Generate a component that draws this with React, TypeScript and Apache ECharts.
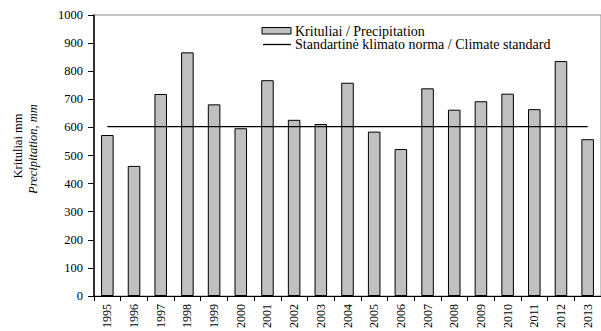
import React, { useEffect, useRef } from "react";
import * as echarts from "echarts";

const years = ["1995","1996","1997","1998","1999","2000","2001","2002","2003","2004","2005","2006","2007","2008","2009","2010","2011","2012","2013"];
const precipitation = [573, 463, 719, 867, 682, 597, 768, 627, 612, 759, 585, 523, 739, 663, 693, 720, 665, 836, 558];
const climateStandard = [603, 603, 603, 603, 603, 603, 603, 603, 603, 603, 603, 603, 603, 603, 603, 603, 603, 603, 603];
const seriesNames = ["Krituliai / Precipitation", "Standartinė klimato norma / Climate standard"];

const FONT = "'Liberation Serif', 'Times New Roman', serif";

export default function App() {
  const ref = useRef<HTMLDivElement>(null);
  useEffect(() => {
    document.body.style.margin = "0";
    const chart = echarts.init(ref.current!, null, { renderer: "svg" });
    chart.setOption({
      animation: false,
      textStyle: { fontFamily: FONT, color: "#000" },
      grid: {
        left: 94, top: 15, right: -4, bottom: 35,
        show: true, borderColor: "#8c8c8c", borderWidth: 1, backgroundColor: "transparent",
      },
      xAxis: {
        type: "category",
        data: years,
        boundaryGap: true,
        axisLine: { lineStyle: { color: "#000", width: 1 } },
        axisTick: { show: true, length: 5, lineStyle: { color: "#000" } },
        axisLabel: { rotate: 90, margin: 8, fontFamily: FONT, fontSize: 12, color: "#000" },
      },
      yAxis: {
        type: "value",
        min: 0,
        max: 1000,
        interval: 100,
        splitLine: { show: false },
        axisLine: { show: true, lineStyle: { color: "#000", width: 1.5 } },
        axisTick: { show: true, length: 6, lineStyle: { color: "#000" } },
        axisLabel: { margin: 11, fontFamily: FONT, fontSize: 12.5, color: "#000", formatter: (v: number) => String(v) },
      },
      series: [
        {
          name: seriesNames[0],
          type: "bar",
          data: precipitation,
          barWidth: "47%",
          itemStyle: { color: "#c0c0c0", borderColor: "#000", borderWidth: 1 },
        },
        {
          name: seriesNames[1],
          type: "line",
          data: climateStandard,
          symbol: "none",
          lineStyle: { color: "#000", width: 1.3 },
          itemStyle: { color: "#000" },
        },
      ],
      graphic: [
        {
          type: "text",
          x: 18, y: 146, rotation: Math.PI / 2,
          style: { text: "Krituliai mm", font: `12.5px ${FONT}`, fill: "#000", align: "center", verticalAlign: "middle" },
        },
        {
          type: "text",
          x: 33, y: 149, rotation: Math.PI / 2,
          style: { text: "Precipitation, mm", font: `italic 12.5px ${FONT}`, fill: "#000", align: "center", verticalAlign: "middle" },
        },
        {
          type: "rect",
          shape: { x: 262, y: 27.5, width: 29, height: 6.5 },
          style: { fill: "#c0c0c0", stroke: "#000", lineWidth: 1 },
        },
        {
          type: "text",
          x: 295, y: 31,
          style: { text: seriesNames[0], font: `14px ${FONT}`, fill: "#000", align: "left", verticalAlign: "middle" },
        },
        {
          type: "line",
          shape: { x1: 263, y1: 44.5, x2: 291, y2: 44.5 },
          style: { stroke: "#000", lineWidth: 1.3 },
        },
        {
          type: "text",
          x: 295, y: 44.5,
          style: { text: seriesNames[1], font: `14px ${FONT}`, fill: "#000", align: "left", verticalAlign: "middle" },
        },
      ],
    });
    return () => chart.dispose();
  }, []);
  return <div ref={ref} style={{ width: 601, height: 331 }} />;
}
